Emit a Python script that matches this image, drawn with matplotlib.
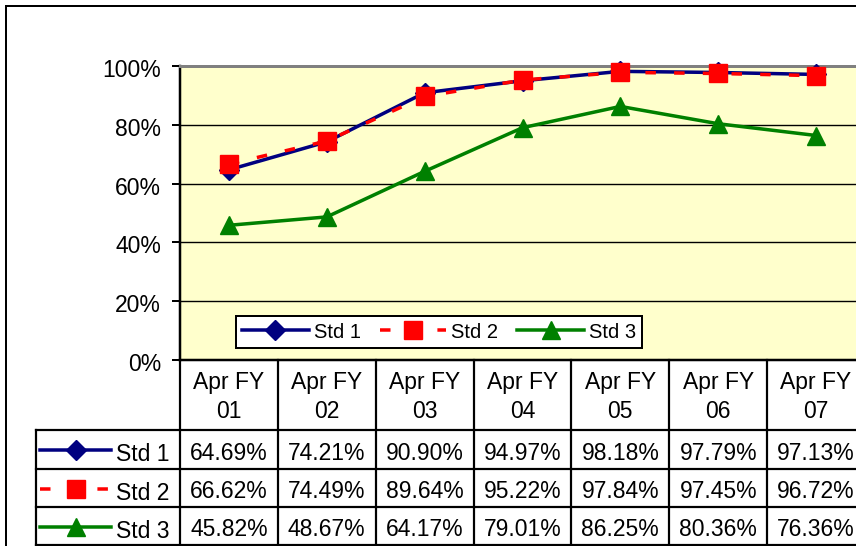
import matplotlib
matplotlib.use("Agg")
import matplotlib.pyplot as plt
from matplotlib.lines import Line2D
from matplotlib.transforms import blended_transform_factory, ScaledTranslation
from matplotlib.patches import Rectangle

plt.rcParams['font.family'] = ['Liberation Sans', 'DejaVu Sans']

categories = ["Apr FY\n01", "Apr FY\n02", "Apr FY\n03", "Apr FY\n04", "Apr FY\n05", "Apr FY\n06", "Apr FY\n07"]
series_names = ["Std 1", "Std 2", "Std 3"]
std1 = [64.69, 74.21, 90.90, 94.97, 98.18, 97.79, 97.13]
std2 = [66.62, 74.49, 89.64, 95.22, 97.84, 97.45, 96.72]
std3 = [45.82, 48.67, 64.17, 79.01, 86.25, 80.36, 76.36]
yticks = [0, 20, 40, 60, 80, 100]

W, H = 856, 546
fig = plt.figure(figsize=(W / 100, H / 100), dpi=100)

def fx(px):
    return px / W

def fy(py):
    return 1 - py / H

PX = 0.72  # points per pixel
FS = 16.5

# axes geometry (pixels)
L, R, T, B = 180, 865, 66, 360
ax = fig.add_axes([fx(L), fy(B), fx(R - L), (B - T) / H])
ax.set_facecolor('#FFFFCC')
ax.set_xlim(-0.5, len(categories) - 0.5)
ax.set_ylim(0, 100)
ax.set_yticks(yticks)
ax.set_yticklabels([f"{v}%" for v in yticks], fontsize=FS)
ax.tick_params(axis='y', length=8 * PX, width=2 * PX, pad=8, color='black')
shift = ScaledTranslation(0, -4.5 / 100, fig.dpi_scale_trans)
for lab in ax.get_yticklabels():
    lab.set_verticalalignment('center')
    lab.set_transform(lab.get_transform() + shift)
ax.set_xticks([])
for v in yticks[1:-1]:
    ax.axhline(v, color='black', lw=1.4 * PX, zorder=1)
ax.spines['top'].set_color('#808080')
ax.spines['top'].set_linewidth(3 * PX)
ax.spines['right'].set_visible(False)
ax.spines['left'].set_linewidth(2.5 * PX)
ax.spines['bottom'].set_linewidth(2.5 * PX)

x = list(range(len(categories)))
lw = 3.5 * PX
styles = [
    dict(color='#000080', lw=lw, marker='D', ms=10, mfc='#000080', mec='#000080'),
    dict(color='#FF0000', lw=lw, marker='s', ms=13, mfc='#FF0000', mec='#FF0000', dashes=(3.0, 5.2)),
    dict(color='#008000', lw=lw, marker='^', ms=13, mfc='#008000', mec='#008000'),
]
data = [std1, std2, std3]
handles = []
for name, vals, st in zip(series_names, data, styles):
    h, = ax.plot(x, vals, label=name, clip_on=False, zorder=3, **st)
    handles.append(h)

leg = ax.legend(handles=handles, loc='center', ncol=3,
                bbox_to_anchor=(fx(439), fy(332)), bbox_transform=fig.transFigure,
                fontsize=14.5, frameon=True, fancybox=False, framealpha=1,
                edgecolor='black', handlelength=3.3, handletextpad=0.25,
                columnspacing=0.95, borderpad=0.3, borderaxespad=0)
leg.get_frame().set_linewidth(2 * PX)
leg.set_zorder(5)

# outer chart border
fig.add_artist(Rectangle((fx(6), fy(1000)), fx(1000), (1000 - 6) / H, fill=False,
                         edgecolor='black', lw=2 * PX, transform=fig.transFigure))

# data table
bt = blended_transform_factory(ax.transData, fig.transFigure)
tlw = 2.2 * PX
rows_y = [430, 469, 507, 545]
for yy in rows_y:
    fig.add_artist(Line2D([fx(36), fx(900)], [fy(yy), fy(yy)], color='black', lw=tlw,
                          transform=fig.transFigure))
for i in range(len(categories)):
    xb = i + 0.5
    fig.add_artist(Line2D([xb, xb], [fy(360), fy(546)], color='black', lw=tlw, transform=bt))
fig.add_artist(Line2D([fx(180), fx(180)], [fy(360), fy(546)], color='black', lw=tlw,
                      transform=fig.transFigure))
fig.add_artist(Line2D([fx(36), fx(36)], [fy(430), fy(546)], color='black', lw=tlw,
                      transform=fig.transFigure))

# header texts
for i, c in enumerate(categories):
    line1, line2 = c.split("\n")
    fig.text(i, fy(383), line1, transform=bt, ha='center', va='center', fontsize=FS)
    fig.text(i, fy(411), line2, transform=bt, ha='center', va='center', fontsize=FS)

# values
for r, (name, vals, st) in enumerate(zip(series_names, data, styles)):
    ytop, ybot = rows_y[r], rows_y[r + 1]
    yc = (ytop + ybot) / 2 + 4
    for i, v in enumerate(vals):
        fig.text(i, fy(yc), f"{v:.2f}%", transform=bt, ha='center', va='center', fontsize=FS)
    fig.text(fx(169), fy(yc + 1), name, ha='right', va='center', fontsize=FS)
    ykey = (ytop + ybot) / 2 + 0.5
    kw = {k: v for k, v in st.items() if k not in ('marker', 'ms', 'mfc', 'mec')}
    fig.add_artist(Line2D([fx(40), fx(111)], [fy(ykey), fy(ykey)], transform=fig.transFigure, **kw))
    fig.add_artist(Line2D([fx(76)], [fy(ykey)], transform=fig.transFigure, linestyle='none',
                          marker=st['marker'], ms=st['ms'], mfc=st['mfc'], mec=st['mec']))

fig.savefig('out.png', dpi=100)
